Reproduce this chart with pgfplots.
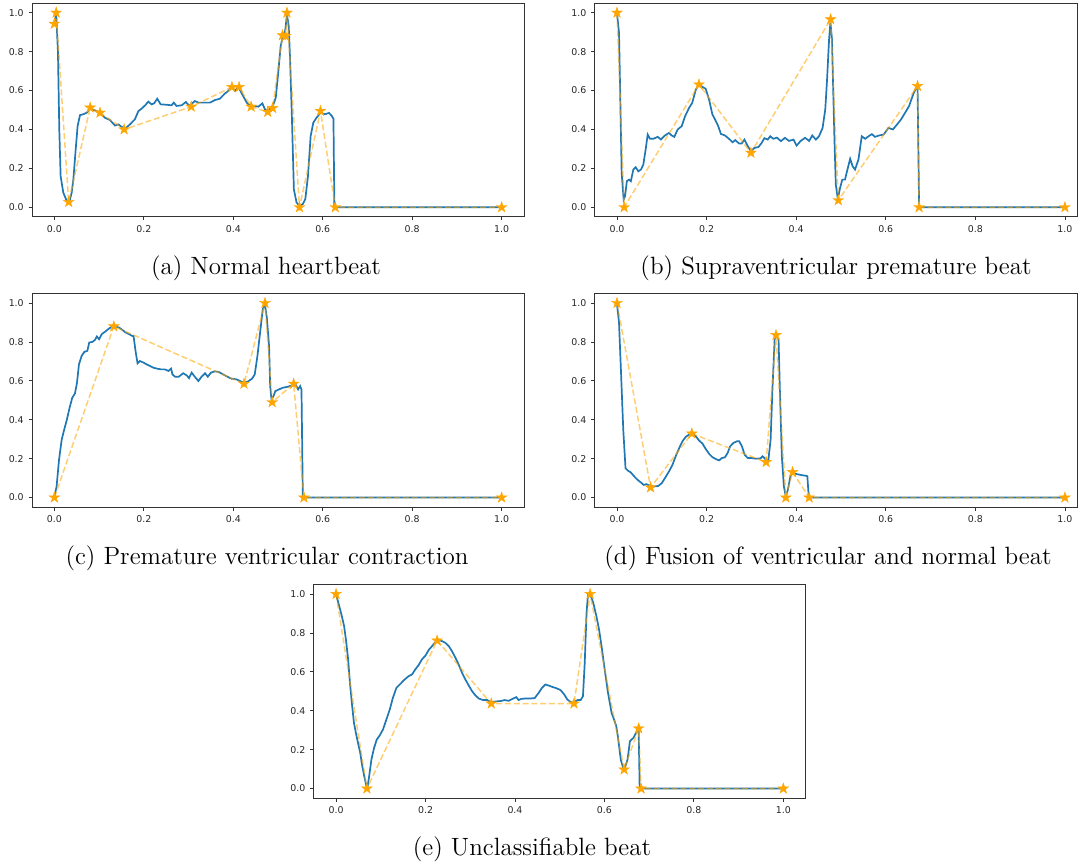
\documentclass[border=0pt]{standalone}
\usepackage{fontspec}
\usepackage{pgfplots}
\pgfplotsset{compat=1.18}
\newfontfamily\dejavu{DejaVu Sans}
\definecolor{mplblue}{HTML}{1F77B4}
\definecolor{mplorange}{HTML}{FFA500}
\pgfdeclareplotmark{fstar}{%
  \pgfpathmoveto{\pgfpointpolar{90}{\pgfplotmarksize}}%
  \pgfpathlineto{\pgfpointpolar{126}{0.382\pgfplotmarksize}}%
  \pgfpathlineto{\pgfpointpolar{162}{\pgfplotmarksize}}%
  \pgfpathlineto{\pgfpointpolar{198}{0.382\pgfplotmarksize}}%
  \pgfpathlineto{\pgfpointpolar{234}{\pgfplotmarksize}}%
  \pgfpathlineto{\pgfpointpolar{270}{0.382\pgfplotmarksize}}%
  \pgfpathlineto{\pgfpointpolar{306}{\pgfplotmarksize}}%
  \pgfpathlineto{\pgfpointpolar{342}{0.382\pgfplotmarksize}}%
  \pgfpathlineto{\pgfpointpolar{18}{\pgfplotmarksize}}%
  \pgfpathlineto{\pgfpointpolar{54}{0.382\pgfplotmarksize}}%
  \pgfpathclose
  \pgfusepathqfillstroke}
\pgfplotsset{
  ecg/.style={
    scale only axis, anchor=south west,
    width=246pt, height=107pt,
    xmin=-0.05, xmax=1.05, ymin=-0.05, ymax=1.05,
    xtick={0,0.2,0.4,0.6,0.8,1.0},
    xticklabels={0.0,0.2,0.4,0.6,0.8,1.0},
    ytick={0,0.2,0.4,0.6,0.8,1.0},
    yticklabels={0.0,0.2,0.4,0.6,0.8,1.0},
    tick align=outside, major tick length=1.75pt,
    tick style={black!80, line width=0.4pt},
    axis line style={black!80, line width=0.5pt},
    tick label style={font=\dejavu\fontsize{4.7}{5}\selectfont, text=black!85, inner sep=1pt},
    xticklabel style={yshift=-1.2pt},
    yticklabel style={xshift=-1.2pt},
    xtick pos=bottom, ytick pos=left,
    clip=false,
  },
  bl/.style={mplblue, line width=0.85pt, no markers},
  od/.style={mplorange, opacity=0.55, line width=0.75pt, dash pattern=on 3pt off 1.4pt, no markers},
  st/.style={only marks, mark=fstar, mark size=2.8pt, mark options={solid, fill=mplorange, draw=mplorange, line width=0.2pt}},
}
\begin{document}
\begin{tikzpicture}
\useasboundingbox (0,0) rectangle (539pt,432pt);
% (a)
\begin{axis}[ecg, at={(16pt,323.5pt)}]
\addplot[bl] coordinates {(0,0.94)(0.004,1.0)(0.008,0.80)(0.011,0.40)(0.014,0.16)(0.020,0.075)(0.0276,0.033)(0.0335,0.027)(0.0387,0.075)(0.0425,0.144)(0.0477,0.298)(0.052,0.418)(0.0574,0.474)(0.0648,0.478)(0.0723,0.486)(0.0797,0.507)(0.0909,0.498)(0.102,0.486)(0.113,0.46)(0.124,0.449)(0.1356,0.42)(0.143,0.426)(0.150,0.414)(0.158,0.404)(0.169,0.426)(0.180,0.452)(0.188,0.495)(0.195,0.507)(0.203,0.524)(0.210,0.543)(0.2175,0.529)(0.223,0.534)(0.230,0.558)(0.2376,0.529)(0.251,0.527)(0.262,0.524)(0.267,0.538)(0.273,0.521)(0.2845,0.524)(0.294,0.541)(0.302,0.521)(0.314,0.546)(0.322,0.538)(0.337,0.538)(0.348,0.538)(0.359,0.551)(0.370,0.558)(0.381,0.584)(0.389,0.598)(0.396,0.62)(0.404,0.598)(0.411,0.62)(0.422,0.572)(0.430,0.538)(0.439,0.517)(0.446,0.521)(0.456,0.517)(0.465,0.534)(0.471,0.503)(0.478,0.495)(0.489,0.524)(0.495,0.563)(0.5005,0.692)(0.506,0.829)(0.512,0.889)(0.516,0.906)(0.520,0.99)(0.524,0.932)(0.527,0.76)(0.531,0.47)(0.5355,0.092)(0.5415,0.024)(0.5475,0.01)(0.555,0.015)(0.561,0.041)(0.567,0.16)(0.573,0.366)(0.579,0.435)(0.586,0.46)(0.595,0.486)(0.605,0.478)(0.614,0.485)(0.620,0.47)(0.624,0.455)(0.626,0.005)(0.628,0)(1,0)};
\addplot[od] coordinates {(0,0.943)(0.004,1.0)(0.032,0.027)(0.080,0.512)(0.102,0.486)(0.156,0.40)(0.306,0.517)(0.397,0.618)(0.413,0.618)(0.44,0.517)(0.477,0.49)(0.488,0.51)(0.51,0.884)(0.517,0.88)(0.52,1.0)(0.548,0.0)(0.595,0.495)(0.628,0)(1,0)};
\addplot[st] coordinates {(0,0.943)(0.004,1.0)(0.032,0.027)(0.080,0.512)(0.102,0.486)(0.156,0.40)(0.306,0.517)(0.397,0.618)(0.413,0.618)(0.44,0.517)(0.477,0.49)(0.488,0.51)(0.51,0.884)(0.517,0.88)(0.52,1.0)(0.548,0.0)(0.595,0.495)(0.628,0)(1,0)};
\end{axis}
% (b)
\begin{axis}[ecg, at={(297.3pt,323.5pt)}, width=241.2pt, xmax=1.027]
\addplot[bl] coordinates {(0,0.997)(0.0045,0.897)(0.0074,0.554)(0.0104,0.177)(0.0149,0.039)(0.018,0.057)(0.022,0.134)(0.027,0.142)(0.031,0.134)(0.0365,0.194)(0.0417,0.206)(0.0477,0.185)(0.0536,0.194)(0.0588,0.22)(0.064,0.297)(0.0685,0.374)(0.0737,0.352)(0.081,0.352)(0.091,0.362)(0.098,0.348)(0.107,0.369)(0.116,0.382)(0.122,0.369)(0.128,0.362)(0.1355,0.40)(0.1445,0.417)(0.152,0.468)(0.161,0.511)(0.168,0.537)(0.176,0.605)(0.183,0.631)(0.1906,0.619)(0.198,0.609)(0.2055,0.554)(0.213,0.477)(0.219,0.451)(0.226,0.417)(0.232,0.377)(0.241,0.369)(0.250,0.352)(0.258,0.334)(0.264,0.345)(0.2725,0.328)(0.2785,0.328)(0.2845,0.348)(0.292,0.314)(0.299,0.288)(0.307,0.305)(0.316,0.31)(0.323,0.331)(0.329,0.355)(0.3366,0.348)(0.342,0.365)(0.349,0.352)(0.357,0.358)(0.366,0.34)(0.375,0.357)(0.384,0.341)(0.394,0.348)(0.401,0.317)(0.41,0.341)(0.42,0.357)(0.429,0.341)(0.436,0.369)(0.444,0.348)(0.451,0.365)(0.459,0.408)(0.465,0.503)(0.469,0.657)(0.4735,0.863)(0.4765,0.949)(0.48,0.863)(0.4825,0.623)(0.4855,0.348)(0.4885,0.117)(0.493,0.043)(0.498,0.099)(0.503,0.142)(0.509,0.142)(0.5145,0.194)(0.5205,0.249)(0.526,0.211)(0.5315,0.194)(0.539,0.245)(0.5465,0.365)(0.554,0.352)(0.5615,0.365)(0.569,0.376)(0.576,0.362)(0.585,0.369)(0.5955,0.374)(0.606,0.408)(0.616,0.40)(0.625,0.425)(0.634,0.451)(0.643,0.485)(0.652,0.52)(0.662,0.585)(0.668,0.614)(0.671,0.623)(0.6745,0)(1,0)};
\addplot[od] coordinates {(0,1.0)(0.016,0)(0.183,0.631)(0.299,0.28)(0.477,0.966)(0.494,0.036)(0.671,0.623)(0.6745,0)(1,0)};
\addplot[st] coordinates {(0,1.0)(0.016,0)(0.183,0.631)(0.299,0.28)(0.477,0.966)(0.494,0.036)(0.671,0.623)(0.6745,0)(1,0)};
\end{axis}
% (c)
\begin{axis}[ecg, at={(16pt,178.35pt)}]
\addplot[bl] coordinates {(0,0.005)(0.005,0.057)(0.0104,0.194)(0.0164,0.298)(0.022,0.349)(0.028,0.401)(0.034,0.461)(0.040,0.513)(0.046,0.535)(0.0506,0.59)(0.055,0.685)(0.061,0.728)(0.067,0.749)(0.0737,0.754)(0.078,0.797)(0.085,0.80)(0.091,0.811)(0.095,0.828)(0.10,0.814)(0.106,0.84)(0.113,0.852)(0.1206,0.866)(0.128,0.878)(0.1355,0.88)(0.1445,0.874)(0.152,0.862)(0.159,0.849)(0.167,0.84)(0.174,0.831)(0.177,0.831)(0.182,0.745)(0.186,0.69)(0.191,0.702)(0.199,0.694)(0.206,0.685)(0.214,0.676)(0.221,0.668)(0.229,0.663)(0.238,0.659)(0.247,0.659)(0.255,0.651)(0.261,0.663)(0.264,0.633)(0.27,0.621)(0.278,0.621)(0.288,0.639)(0.296,0.628)(0.301,0.614)(0.307,0.642)(0.314,0.621)(0.322,0.599)(0.329,0.621)(0.337,0.639)(0.343,0.621)(0.35,0.642)(0.359,0.649)(0.368,0.645)(0.3775,0.633)(0.387,0.621)(0.396,0.611)(0.407,0.608)(0.415,0.599)(0.424,0.59)(0.433,0.597)(0.442,0.611)(0.448,0.633)(0.454,0.728)(0.460,0.849)(0.466,0.969)(0.4705,0.995)(0.475,0.926)(0.48,0.78)(0.4825,0.573)(0.4855,0.504)(0.49,0.522)(0.494,0.547)(0.502,0.556)(0.5115,0.565)(0.5225,0.57)(0.5315,0.577)(0.539,0.582)(0.545,0.556)(0.5495,0.573)(0.5525,0.556)(0.5555,0.005)(0.558,0)(1,0)};
\addplot[od] coordinates {(0,0)(0.133,0.88)(0.424,0.585)(0.471,1.0)(0.487,0.49)(0.535,0.585)(0.558,0)(1,0)};
\addplot[st] coordinates {(0,0)(0.133,0.88)(0.424,0.585)(0.471,1.0)(0.487,0.49)(0.535,0.585)(0.558,0)(1,0)};
\end{axis}
% (d)
\begin{axis}[ecg, at={(297.3pt,178.35pt)}, width=241.2pt, xmax=1.027]
\addplot[bl] coordinates {(0,0.995)(0.0045,0.90)(0.009,0.642)(0.014,0.349)(0.019,0.151)(0.024,0.139)(0.031,0.129)(0.0387,0.108)(0.046,0.091)(0.0537,0.077)(0.0596,0.065)(0.066,0.069)(0.074,0.06)(0.083,0.057)(0.0924,0.06)(0.10,0.074)(0.107,0.10)(0.116,0.134)(0.124,0.169)(0.131,0.212)(0.139,0.255)(0.146,0.289)(0.1535,0.312)(0.161,0.324)(0.168,0.329)(0.176,0.315)(0.183,0.294)(0.191,0.277)(0.198,0.25)(0.2056,0.225)(0.213,0.208)(0.2205,0.198)(0.228,0.191)(0.234,0.203)(0.241,0.207)(0.247,0.229)(0.2526,0.263)(0.26,0.281)(0.2675,0.289)(0.273,0.289)(0.279,0.263)(0.285,0.22)(0.292,0.203)(0.301,0.203)(0.31,0.20)(0.32,0.201)(0.325,0.212)(0.3294,0.203)(0.334,0.186)(0.338,0.194)(0.343,0.298)(0.347,0.556)(0.352,0.814)(0.356,0.831)(0.3607,0.814)(0.3636,0.556)(0.368,0.212)(0.3726,0.057)(0.377,0.005)(0.3815,0.04)(0.387,0.108)(0.392,0.129)(0.398,0.122)(0.405,0.119)(0.413,0.115)(0.4218,0.112)(0.425,0.11)(0.428,0.005)(0.429,0)(1,0)};
\addplot[od] coordinates {(0,1.0)(0.075,0.052)(0.167,0.329)(0.333,0.182)(0.355,0.835)(0.377,0)(0.392,0.131)(0.429,0)(1,0)};
\addplot[st] coordinates {(0,1.0)(0.075,0.052)(0.167,0.329)(0.333,0.182)(0.355,0.835)(0.377,0)(0.392,0.131)(0.429,0)(1,0)};
\end{axis}
% (e)
\begin{axis}[ecg, at={(156.85pt,32.85pt)}]
\addplot[bl] coordinates {(0,0.998)(0.006,0.947)(0.012,0.895)(0.018,0.835)(0.022,0.767)(0.027,0.664)(0.031,0.544)(0.036,0.424)(0.040,0.338)(0.045,0.278)(0.049,0.235)(0.054,0.184)(0.058,0.123)(0.063,0.063)(0.068,0.012)(0.070,0.003)(0.074,0.063)(0.079,0.149)(0.085,0.209)(0.091,0.252)(0.0976,0.273)(0.105,0.304)(0.1125,0.355)(0.12,0.406)(0.127,0.466)(0.135,0.518)(0.1445,0.54)(0.1535,0.561)(0.1624,0.578)(0.17,0.587)(0.177,0.612)(0.185,0.636)(0.192,0.664)(0.2,0.684)(0.207,0.712)(0.2146,0.732)(0.222,0.753)(0.2295,0.763)(0.237,0.758)(0.2444,0.749)(0.252,0.732)(0.259,0.707)(0.267,0.672)(0.274,0.638)(0.2817,0.595)(0.289,0.561)(0.2966,0.53)(0.304,0.501)(0.3115,0.479)(0.319,0.463)(0.3286,0.455)(0.338,0.455)(0.347,0.444)(0.358,0.448)(0.368,0.45)(0.377,0.455)(0.386,0.451)(0.396,0.463)(0.403,0.47)(0.408,0.455)(0.414,0.461)(0.423,0.463)(0.433,0.463)(0.444,0.465)(0.453,0.492)(0.4605,0.518)(0.468,0.535)(0.475,0.53)(0.483,0.523)(0.4925,0.516)(0.502,0.506)(0.51,0.484)(0.517,0.458)(0.525,0.444)(0.532,0.444)(0.54,0.455)(0.547,0.455)(0.552,0.475)(0.556,0.647)(0.56,0.904)(0.5633,0.998)(0.569,0.993)(0.575,0.955)(0.582,0.887)(0.588,0.818)(0.5946,0.715)(0.6006,0.612)(0.608,0.492)(0.616,0.389)(0.6215,0.355)(0.6264,0.321)(0.630,0.269)(0.6365,0.149)(0.642,0.106)(0.6456,0.106)(0.6517,0.149)(0.657,0.244)(0.665,0.261)(0.6725,0.295)(0.6765,0.312)(0.6787,0.012)(0.682,0)(1,0)};
\addplot[od] coordinates {(0,1.0)(0.069,0)(0.226,0.761)(0.347,0.437)(0.532,0.437)(0.568,1.0)(0.644,0.098)(0.6765,0.309)(0.682,0)(1,0)};
\addplot[st] coordinates {(0,1.0)(0.069,0)(0.226,0.761)(0.347,0.437)(0.532,0.437)(0.568,1.0)(0.644,0.098)(0.6765,0.309)(0.682,0)(1,0)};
\end{axis}
\begin{scope}[every node/.style={font=\fontsize{12.5}{14}\selectfont, inner sep=0pt}]
\node at (133pt,298pt) {(a) Normal heartbeat};
\node at (418pt,298pt) {(b) Supraventricular premature beat};
\node at (133.5pt,153pt) {(c) Premature ventricular contraction};
\node at (414pt,153pt) {(d) Fusion of ventricular and normal beat};
\node at (266pt,7.5pt) {(e) Unclassifiable beat};
\end{scope}
\end{tikzpicture}
\end{document}
